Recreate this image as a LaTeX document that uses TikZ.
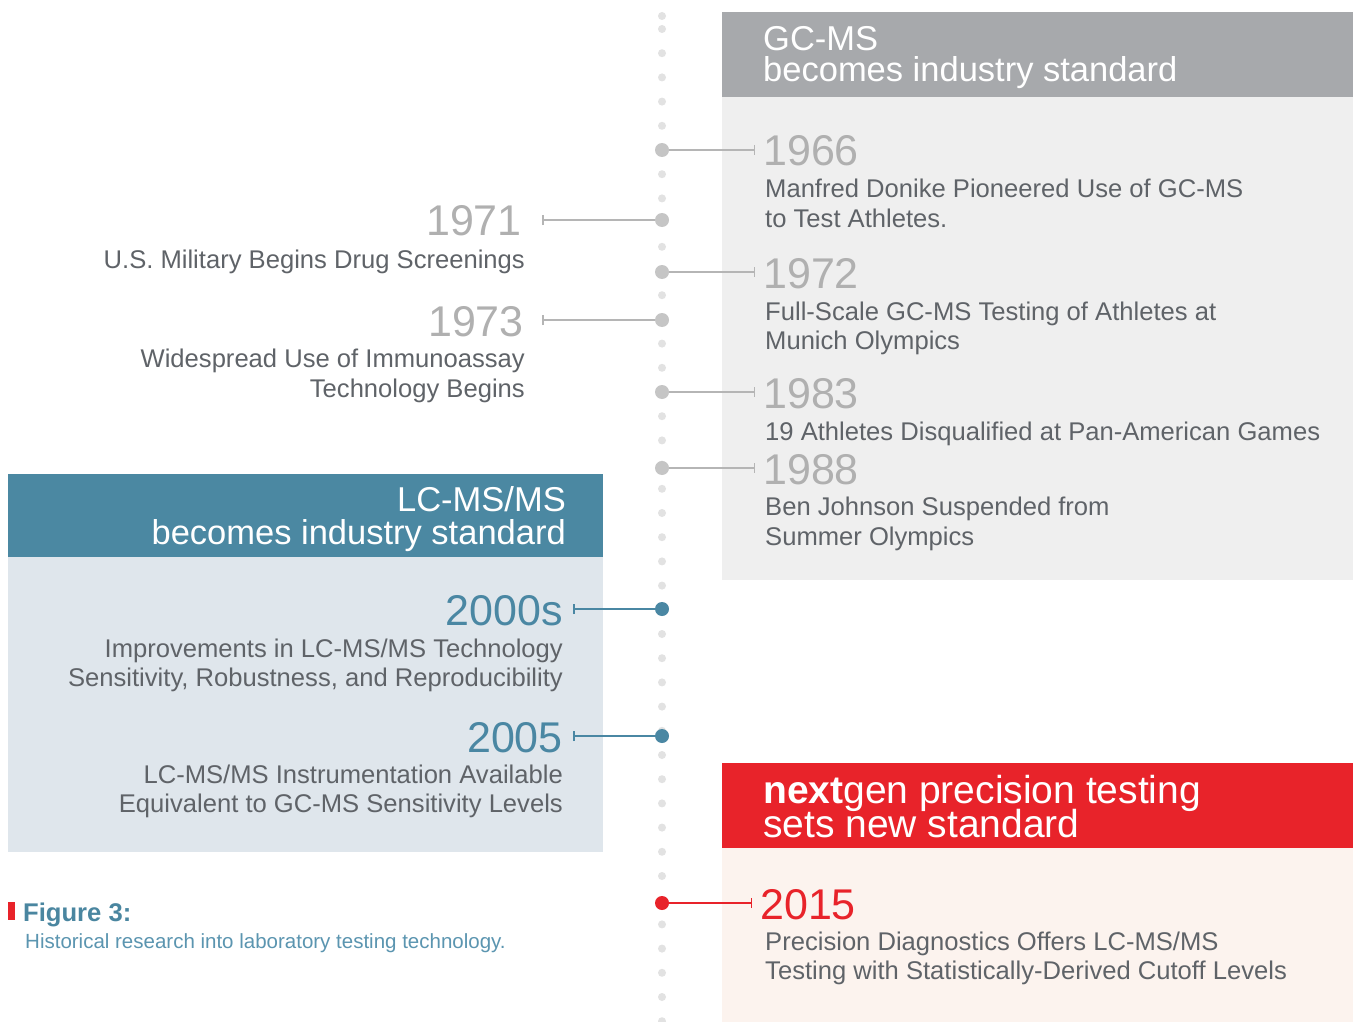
\documentclass[tikz,border=0pt]{standalone}
\usepackage{fontspec}
\setmainfont{Liberation Sans}
\usetikzlibrary{arrows.meta}
\definecolor{gchead}{HTML}{A7A9AC}
\definecolor{gcbody}{HTML}{EFEFEF}
\definecolor{lchead}{HTML}{4B88A2}
\definecolor{lcbody}{HTML}{DFE6EC}
\definecolor{redhead}{HTML}{E8232A}
\definecolor{redbody}{HTML}{FCF3EE}
\definecolor{dotsmall}{HTML}{E2E2E2}
\definecolor{dotgray}{HTML}{C5C5C5}
\definecolor{conngray}{HTML}{B5B5B5}
\definecolor{tealc}{HTML}{4A87A3}
\definecolor{yeargray}{HTML}{B0B0B0}
\definecolor{bodytext}{HTML}{5F6368}
\definecolor{capteal}{HTML}{4A86A0}
\definecolor{subteal}{HTML}{5B95B0}
\begin{document}
\begin{tikzpicture}[x=1pt,y=-1pt,
  year/.style={font=\fontsize{43}{43}\selectfont, text=yeargray, inner sep=0pt},
  body/.style={font=\fontsize{25.6}{30}\selectfont, text=bodytext, inner sep=0pt},
  head/.style={font=\fontsize{34.5}{34.5}\selectfont, text=white, inner sep=0pt},
  redh/.style={font=\fontsize{39}{39}\selectfont, text=white, inner sep=0pt},
  bigdot/.style={circle, minimum size=14pt, inner sep=0pt, fill=#1},
  conn/.style={draw=#1, line width=2pt, -{Bar[width=10pt,line width=1.5pt]}},
]
\useasboundingbox (0,0) rectangle (1353,1022);
\fill[white] (0,0) rectangle (1353,1022);
% boxes
\fill[gcbody] (722,97) rectangle (1353,580);
\fill[gchead] (722,12) rectangle (1353,97);
\fill[lcbody] (8,557) rectangle (603,852);
\fill[lchead] (8,474) rectangle (603,557);
\fill[redbody] (722,848) rectangle (1353,1022);
\fill[redhead] (722,763) rectangle (1353,848);
% dotted timeline
\fill[dotsmall] (662,16) circle (4);
\foreach \k in {0,...,41} \fill[dotsmall] (662,29+24.2*\k) circle (4);
% header texts
\node[head, anchor=base west] (gc1) at (763,51) {GC-MS};
\node[head, anchor=base west] (gc2) at (763,82) {becomes industry standard};
\node[head, anchor=base east] (lc1) at (566,511) {LC-MS/MS};
\node[head, anchor=base east] (lc2) at (566,544) {becomes industry standard};
\node[redh, anchor=base west] (ng1) at (763,803) {{\bfseries next}gen precision testing};
\node[redh, anchor=base west] (ng2) at (763,837) {sets new standard};
% big dots
\node[bigdot=dotgray] (d66) at (662,150) {};
\node[bigdot=dotgray] (d71) at (662,220) {};
\node[bigdot=dotgray] (d72) at (662,272) {};
\node[bigdot=dotgray] (d73) at (662,320) {};
\node[bigdot=dotgray] (d83) at (662,392) {};
\node[bigdot=dotgray] (d88) at (662,468) {};
\node[bigdot=tealc] (d00) at (662,609) {};
\node[bigdot=tealc] (d05) at (662,736) {};
\node[bigdot=redhead] (d15) at (662,903) {};
% tick coordinates
\coordinate (t66) at (755,150);
\coordinate (t71) at (542,220);
\coordinate (t72) at (755,272);
\coordinate (t73) at (542,320);
\coordinate (t83) at (755,392);
\coordinate (t88) at (755,468);
\coordinate (t00) at (573,609);
\coordinate (t05) at (573,736);
\coordinate (t15) at (752,903);
\draw[conn=conngray] (d66) -- (t66);
\draw[conn=conngray] (d71) -- (t71);
\draw[conn=conngray] (d72) -- (t72);
\draw[conn=conngray] (d73) -- (t73);
\draw[conn=conngray] (d83) -- (t83);
\draw[conn=conngray] (d88) -- (t88);
\draw[conn=tealc] (d00) -- (t00);
\draw[conn=tealc] (d05) -- (t05);
\draw[conn=redhead] (d15) -- (t15);
% right side entries
\node[year, anchor=base west] (y66) at (763,166) {1966};
\node[body, anchor=base west] (b66a) at (765,197) {Manfred Donike Pioneered Use of GC-MS};
\node[body, anchor=base west] (b66b) at (765,227) {to Test Athletes.};
\node[year, anchor=base west] (y72) at (763,288) {1972};
\node[body, anchor=base west] (b72a) at (765,320) {Full-Scale GC-MS Testing of Athletes at};
\node[body, anchor=base west] (b72b) at (765,349) {Munich Olympics};
\node[year, anchor=base west] (y83) at (763,408) {1983};
\node[body, anchor=base west] (b83a) at (765,440) {19 Athletes Disqualified at Pan-American Games};
\node[year, anchor=base west] (y88) at (763,484) {1988};
\node[body, anchor=base west] (b88a) at (765,515) {Ben Johnson Suspended from};
\node[body, anchor=base west] (b88b) at (765,545) {Summer Olympics};
\node[year, anchor=base west, text=redhead] (y15) at (760,919) {2015};
\node[body, anchor=base west] (b15a) at (765,950) {Precision Diagnostics Offers LC-MS/MS};
\node[body, anchor=base west] (b15b) at (765,979) {Testing with Statistically-Derived Cutoff Levels};
% left side entries
\node[year, anchor=base east] (y71) at (522,236) {1971};
\node[body, anchor=base east] (b71a) at (525,268) {U.S. Military Begins Drug Screenings};
\node[year, anchor=base east] (y73) at (524,336) {1973};
\node[body, anchor=base east] (b73a) at (525,367) {Widespread Use of Immunoassay};
\node[body, anchor=base east] (b73b) at (525,397) {Technology Begins};
\node[year, anchor=base east, text=tealc] (y00) at (563,625) {2000s};
\node[body, anchor=base east] (b00a) at (563,657) {Improvements in LC-MS/MS Technology};
\node[body, anchor=base east] (b00b) at (563,686) {Sensitivity, Robustness, and Reproducibility};
\node[year, anchor=base east, text=tealc] (y05) at (563,752) {2005};
\node[body, anchor=base east] (b05a) at (563,783) {LC-MS/MS Instrumentation Available};
\node[body, anchor=base east] (b05b) at (563,812) {Equivalent to GC-MS Sensitivity Levels};
% caption
\fill[redhead] (8,902) rectangle (15,920);
\node[anchor=base west, inner sep=0pt, font=\bfseries\fontsize{25.6}{25.6}\selectfont, text=capteal] (cap) at (23,921) {Figure 3:};
\node[anchor=base west, inner sep=0pt, font=\fontsize{20.5}{20.5}\selectfont, text=subteal] (sub) at (25,948) {Historical research into laboratory testing technology.};
\end{tikzpicture}
\end{document}
